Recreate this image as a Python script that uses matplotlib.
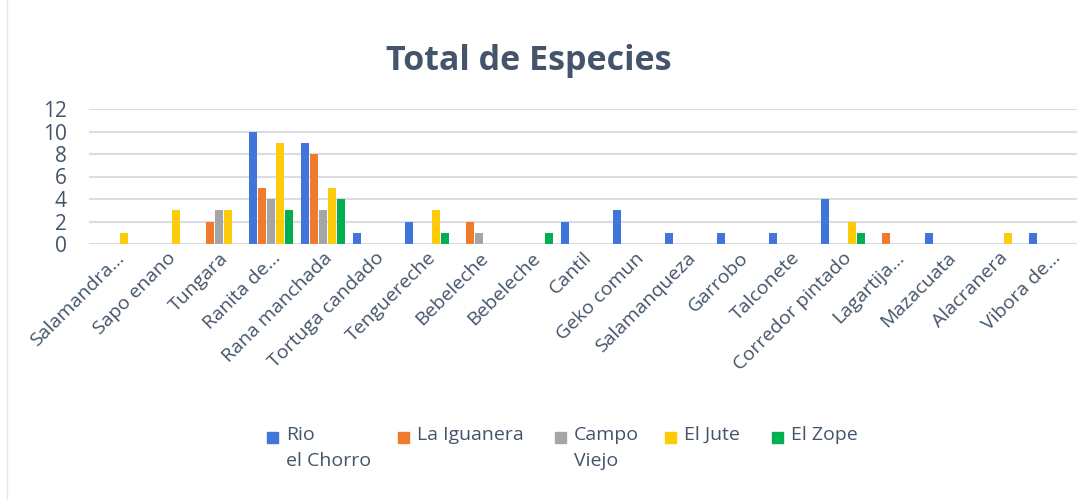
import matplotlib.pyplot as plt
from matplotlib.patches import Rectangle
from matplotlib.lines import Line2D
import numpy as np

plt.rcParams["font.family"] = ["Open Sans", "DejaVu Sans"]

especies = ["Salamandra…", "Sapo enano", "Tungara", "Ranita de…", "Rana manchada",
            "Tortuga candado", "Tenguereche", "Bebeleche", "Bebeleche", "Cantil",
            "Geko comun", "Salamanqueza", "Garrobo", "Talconete", "Corredor pintado",
            "Lagartija…", "Mazacuata", "Alacranera", "Vibora de…"]

rio_chorro = [0, 0, 0, 10, 9, 1, 2, 0, 0, 2, 3, 1, 1, 1, 4, 0, 1, 0, 1]
la_iguanera = [0, 0, 2, 5, 8, 0, 0, 2, 0, 0, 0, 0, 0, 0, 0, 1, 0, 0, 0]
campo_viejo = [0, 0, 3, 4, 3, 0, 0, 1, 0, 0, 0, 0, 0, 0, 0, 0, 0, 0, 0]
el_jute = [1, 3, 3, 9, 5, 0, 3, 0, 0, 0, 0, 0, 0, 0, 2, 0, 0, 1, 0]
el_zope = [0, 0, 0, 3, 4, 0, 1, 0, 1, 0, 0, 0, 0, 0, 1, 0, 0, 0, 0]

nombres = ["Rio\nel Chorro", "La Iguanera", "Campo\nViejo", "El Jute", "El Zope"]
valores = [rio_chorro, la_iguanera, campo_viejo, el_jute, el_zope]
colors = ["#4275D9", "#F07B2E", "#A5A5A5", "#FDCB0A", "#00B050"]
txt = "#44546A"

W, H = 1077, 500
fig = plt.figure(figsize=(W / 100, H / 100), dpi=100)
ax = fig.add_axes([89 / W, 1 - 244 / H, 1 - 89 / W, 135 / H])

x = np.arange(len(especies))
pitch = 0.173
for k, vals in enumerate(valores):
    ax.bar(x + (k - 2) * pitch, vals, width=0.135, color=colors[k], zorder=3)

ax.set_xlim(-0.5, len(especies) - 0.5)
ax.set_ylim(0, 12)
ax.set_yticks(range(0, 13, 2))
ax.yaxis.grid(True, color="#D9DDE3", linewidth=1.5, zorder=0)
for s in ax.spines.values():
    s.set_visible(False)
ax.tick_params(length=0, colors=txt)
ax.tick_params(axis="y", pad=16, labelsize=15)
ax.set_xticks(x)
ax.set_xticklabels(especies, rotation=45, ha="right", rotation_mode="anchor", fontsize=14)

fig.text(529 / W, 1 - 61 / H, "Total de Especies", ha="center", va="center",
         fontsize=24.5, fontweight="bold", color=txt)

# legend, laid out by hand so the square sits next to the first line of text
sq_x = [267, 398, 555, 665, 772]
sq = 11
for k, nombre in enumerate(nombres):
    fig.add_artist(Rectangle((sq_x[k] / W, 1 - (432 + sq) / H), sq / W, sq / H,
                             transform=fig.transFigure, color=colors[k]))
    fig.text((sq_x[k] + sq + 8) / W, 1 - 426 / H, nombre, ha="left", va="top",
             fontsize=14, color=txt, linespacing=1.55)

fig.add_artist(Line2D([7 / W, 7 / W], [0, 1], transform=fig.transFigure,
                      color="#E6E6E6", linewidth=1))

fig.savefig("out.png", dpi=100)
